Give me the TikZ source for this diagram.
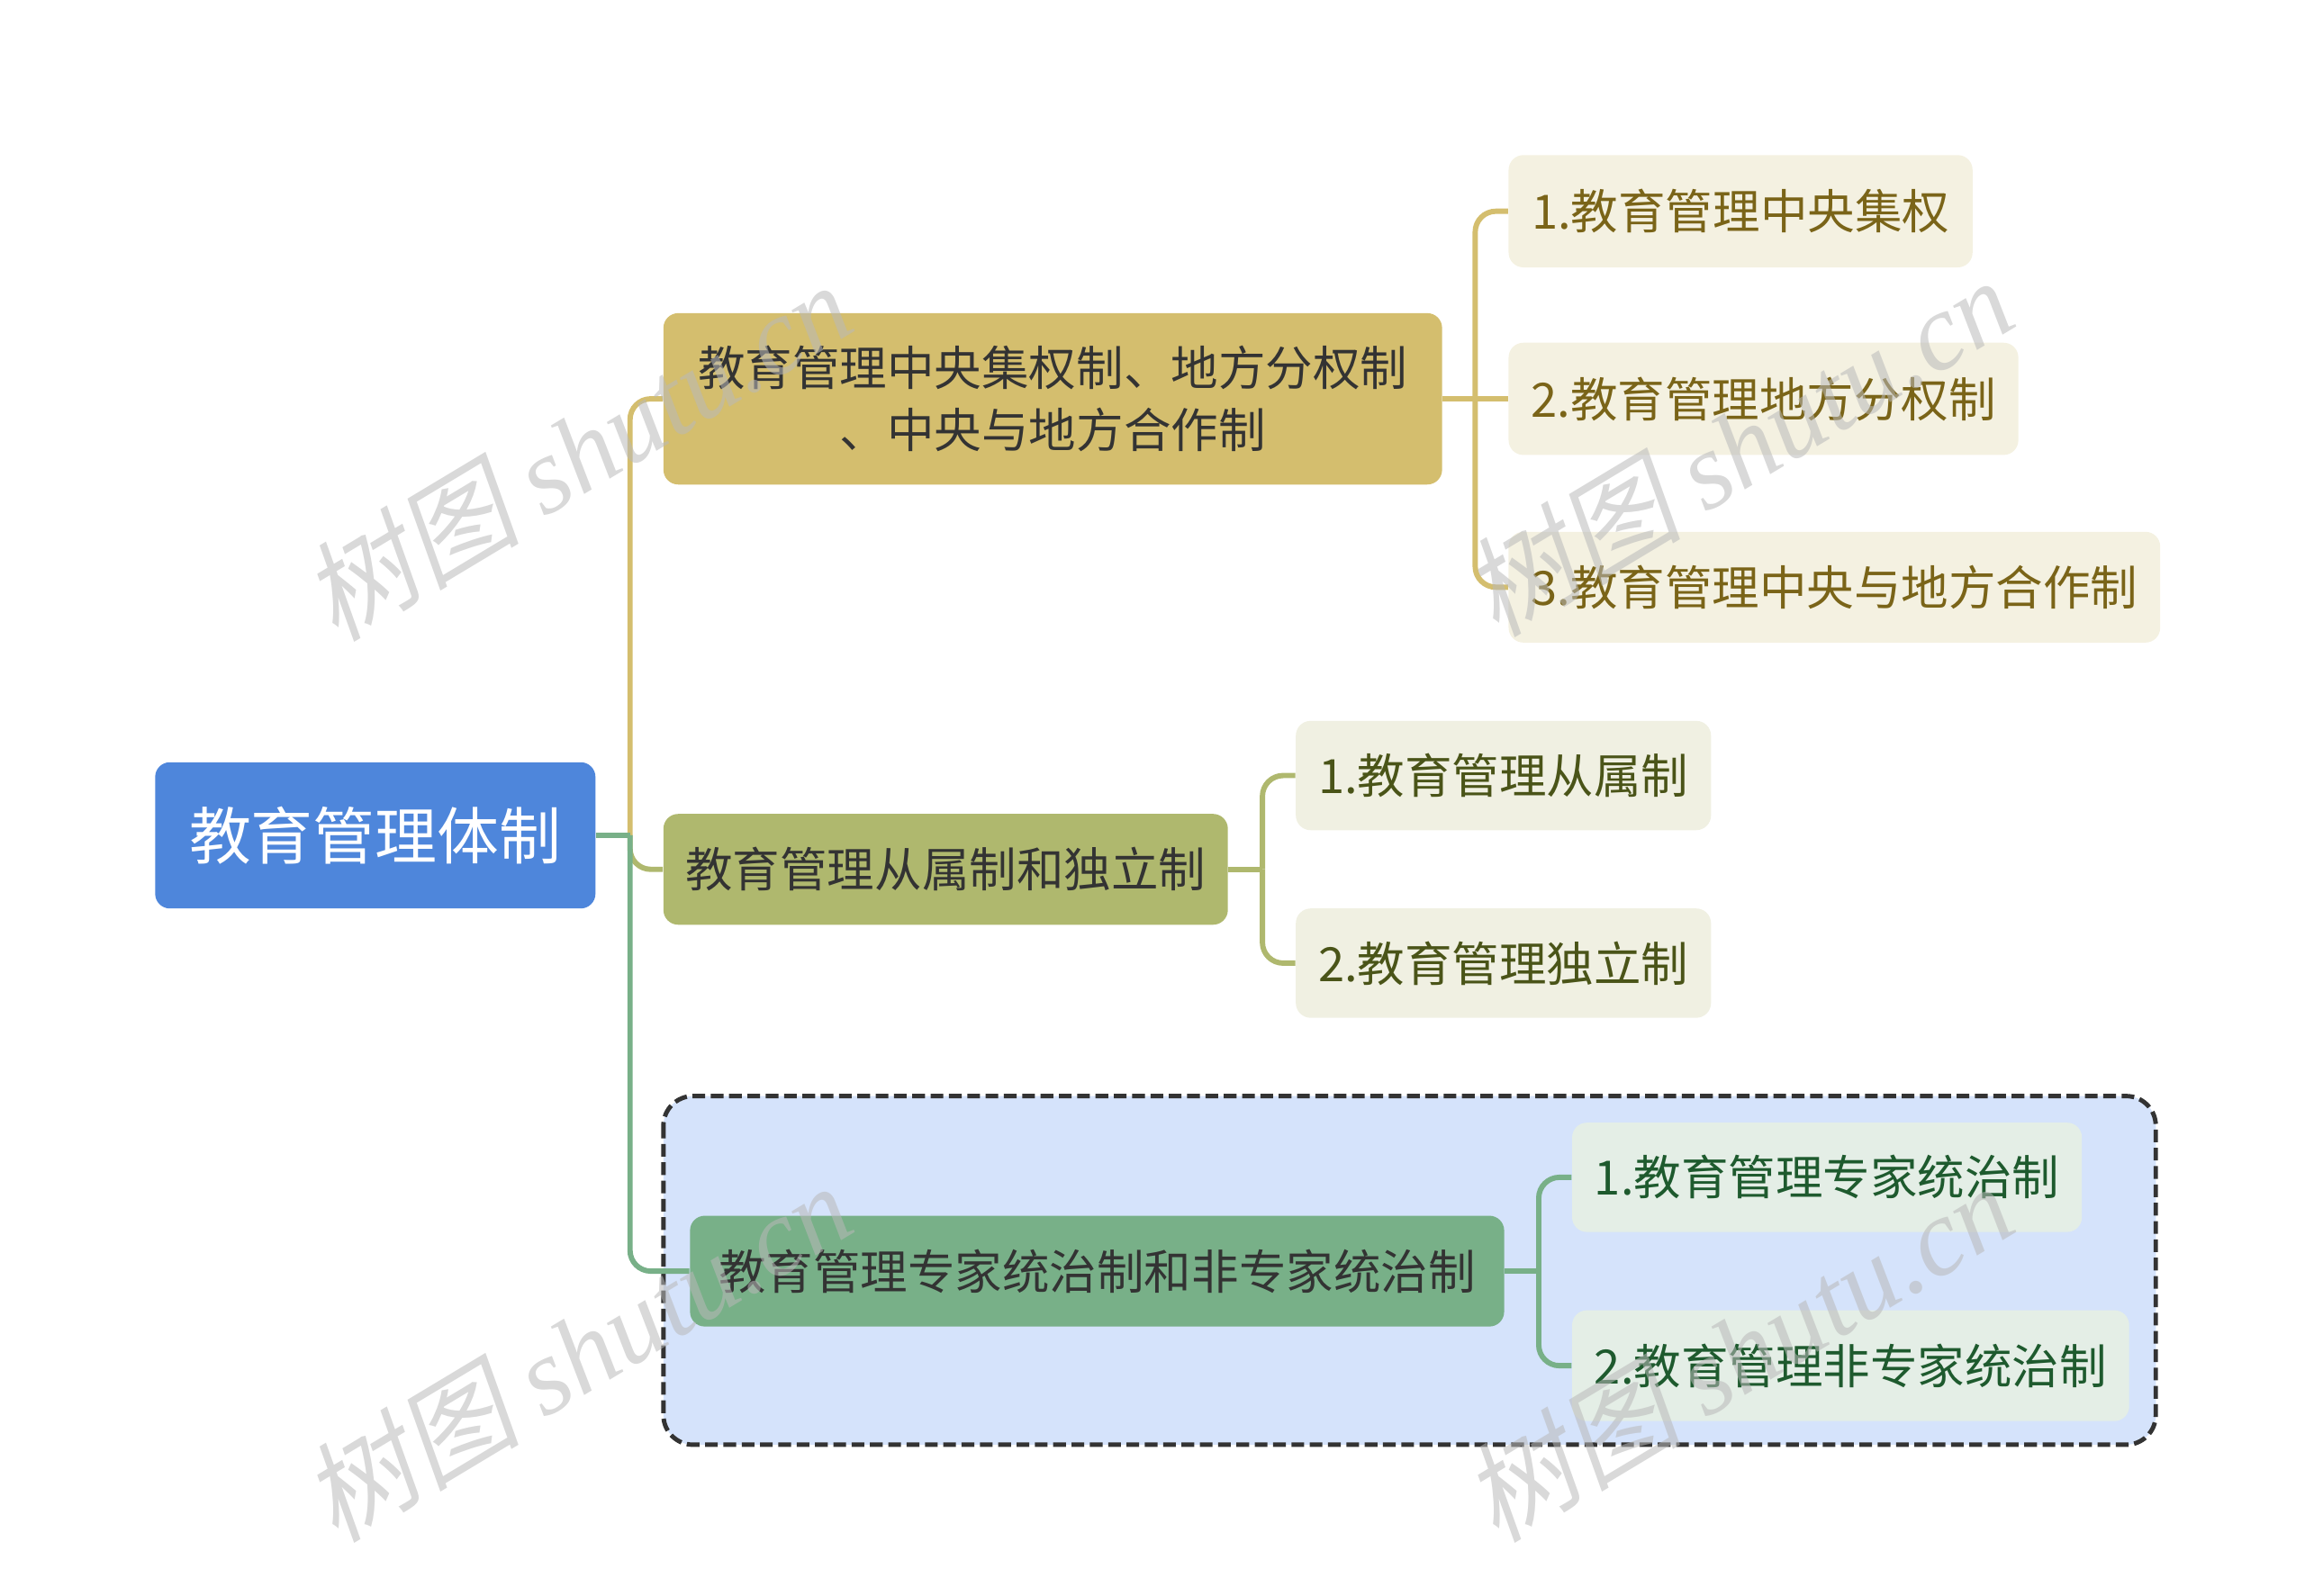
\documentclass[tikz,border=0pt]{standalone}
\usepackage{fontspec}
\usetikzlibrary{calc}
\setmainfont{Noto Sans CJK SC}
\newfontfamily\wmcjk[FakeSlant=0.2]{Noto Sans CJK SC}
\newfontfamily\wmlat{Liberation Serif}
\definecolor{rootblue}{HTML}{4E86DB}
\definecolor{tanfill}{HTML}{D4BE6E}
\definecolor{olivefill}{HTML}{AFB86E}
\definecolor{greenfill}{HTML}{78B088}
\definecolor{tanleaf}{HTML}{F4F1E1}
\definecolor{oliveleaf}{HTML}{F0F0E2}
\definecolor{greenleaf}{HTML}{E4EEE6}
\definecolor{tantext}{HTML}{7A6418}
\definecolor{olivetext}{HTML}{4A5418}
\definecolor{greentext}{HTML}{1E5A2E}
\definecolor{groupfill}{HTML}{D5E3FB}
\definecolor{darktext}{HTML}{333333}
\tikzset{
  box/.style={rounded corners=5pt, inner sep=0pt, align=center, font=\fontsize{16}{21}\selectfont},
  rootbox/.style={box, fill=rootblue, text=white, font=\fontsize{21}{26}\selectfont},
  mainbox/.style={box, text=darktext},
  conn/.style={line width=1.8pt, rounded corners=7pt},
  stub/.style={line width=1.8pt},
  wm/.style={rotate=31, text=gray!55, opacity=0.55, font=\fontsize{37}{37}\selectfont},
}
\begin{document}
\begin{tikzpicture}[x=0.5pt,y=-0.5pt]
\useasboundingbox (0,0) rectangle (1560,1080);
% group background
\draw[line width=1.5pt, draw=darktext, dash pattern=on 4.3pt off 1.9pt, fill=groupfill, rounded corners=10pt] (449,742) rectangle (1459,978);
% nodes
\node[rootbox, minimum width=149pt, minimum height=49.5pt] (root) at (254,565.5) {教育管理体制};
\node[mainbox, fill=tanfill, minimum width=263.5pt, minimum height=58pt] (A) at (712.5,270) {教育管理中央集权制、地方分权制\\、中央与地方合作制};
\node[mainbox, fill=olivefill, minimum width=191pt, minimum height=37.5pt] (B) at (640,588.5) {教育管理从属制和独立制};
\node[mainbox, fill=greenfill, minimum width=275.5pt, minimum height=37.5pt] (C) at (742.5,860.5) {教育管理专家统治制和非专家统治制};
\node[box, fill=tanleaf, text=tantext, minimum width=157pt, minimum height=38pt] (A1) at (1178,143) {1.教育管理中央集权};
\node[box, fill=tanleaf, text=tantext, minimum width=172.5pt, minimum height=38pt] (A2) at (1193.5,270) {2.教育管理地方分权制};
\node[box, fill=tanleaf, text=tantext, minimum width=220.5pt, minimum height=37.5pt] (A3) at (1241.5,397.5) {3.教育管理中央与地方合作制};
\node[box, fill=oliveleaf, text=olivetext, minimum width=140.5pt, minimum height=37pt] (B1) at (1017.5,525) {1.教育管理从属制};
\node[box, fill=oliveleaf, text=olivetext, minimum width=140.5pt, minimum height=37pt] (B2) at (1017.5,652) {2.教育管理独立制};
\node[box, fill=greenleaf, text=greentext, minimum width=172.5pt, minimum height=37pt] (C1) at (1236.5,797) {1.教育管理专家统治制};
\node[box, fill=greenleaf, text=greentext, minimum width=188.5pt, minimum height=37.5pt] (C2) at (1252.5,924.5) {2.教育管理非专家统治制};
% junction points
\coordinate (jr) at ($(root.east)+(23,0)$);
\coordinate (ja) at ($(A.east)+(22,0)$);
\coordinate (jb) at ($(B.east)+(23,0)$);
\coordinate (jc) at ($(C.east)+(23,0)$);
% connectors
\draw[conn, draw=tanfill] (jr) |- (A.west);
\draw[conn, draw=olivefill] (jr) |- (B.west);
\draw[conn, draw=greenfill] (jr) |- (C.west);
\draw[stub, draw=greenfill] (root.east) -- (jr);
\draw[stub, draw=tanfill] (A.east) -- (ja);
\draw[conn, draw=tanfill] (ja) |- (A1.west);
\draw[conn, draw=tanfill] (ja) -- (A2.west);
\draw[conn, draw=tanfill] (ja) |- (A3.west);
\draw[stub, draw=olivefill] (B.east) -- (jb);
\draw[conn, draw=olivefill] (jb) |- (B1.west);
\draw[conn, draw=olivefill] (jb) |- (B2.west);
\draw[stub, draw=greenfill] (C.east) -- (jc);
\draw[conn, draw=greenfill] (jc) |- (C1.west);
\draw[conn, draw=greenfill] (jc) |- (C2.west);
% watermarks
\node[wm] (w1) at (390,305) {\wmcjk 树图 \wmlat\itshape shutu.cn};
\node[wm] (w2) at (1176,302) {\wmcjk 树图 \wmlat\itshape shutu.cn};
\node[wm] (w3) at (390,915) {\wmcjk 树图 \wmlat\itshape shutu.cn};
\node[wm] (w4) at (1176,915) {\wmcjk 树图 \wmlat\itshape shutu.cn};
\end{tikzpicture}
\end{document}
